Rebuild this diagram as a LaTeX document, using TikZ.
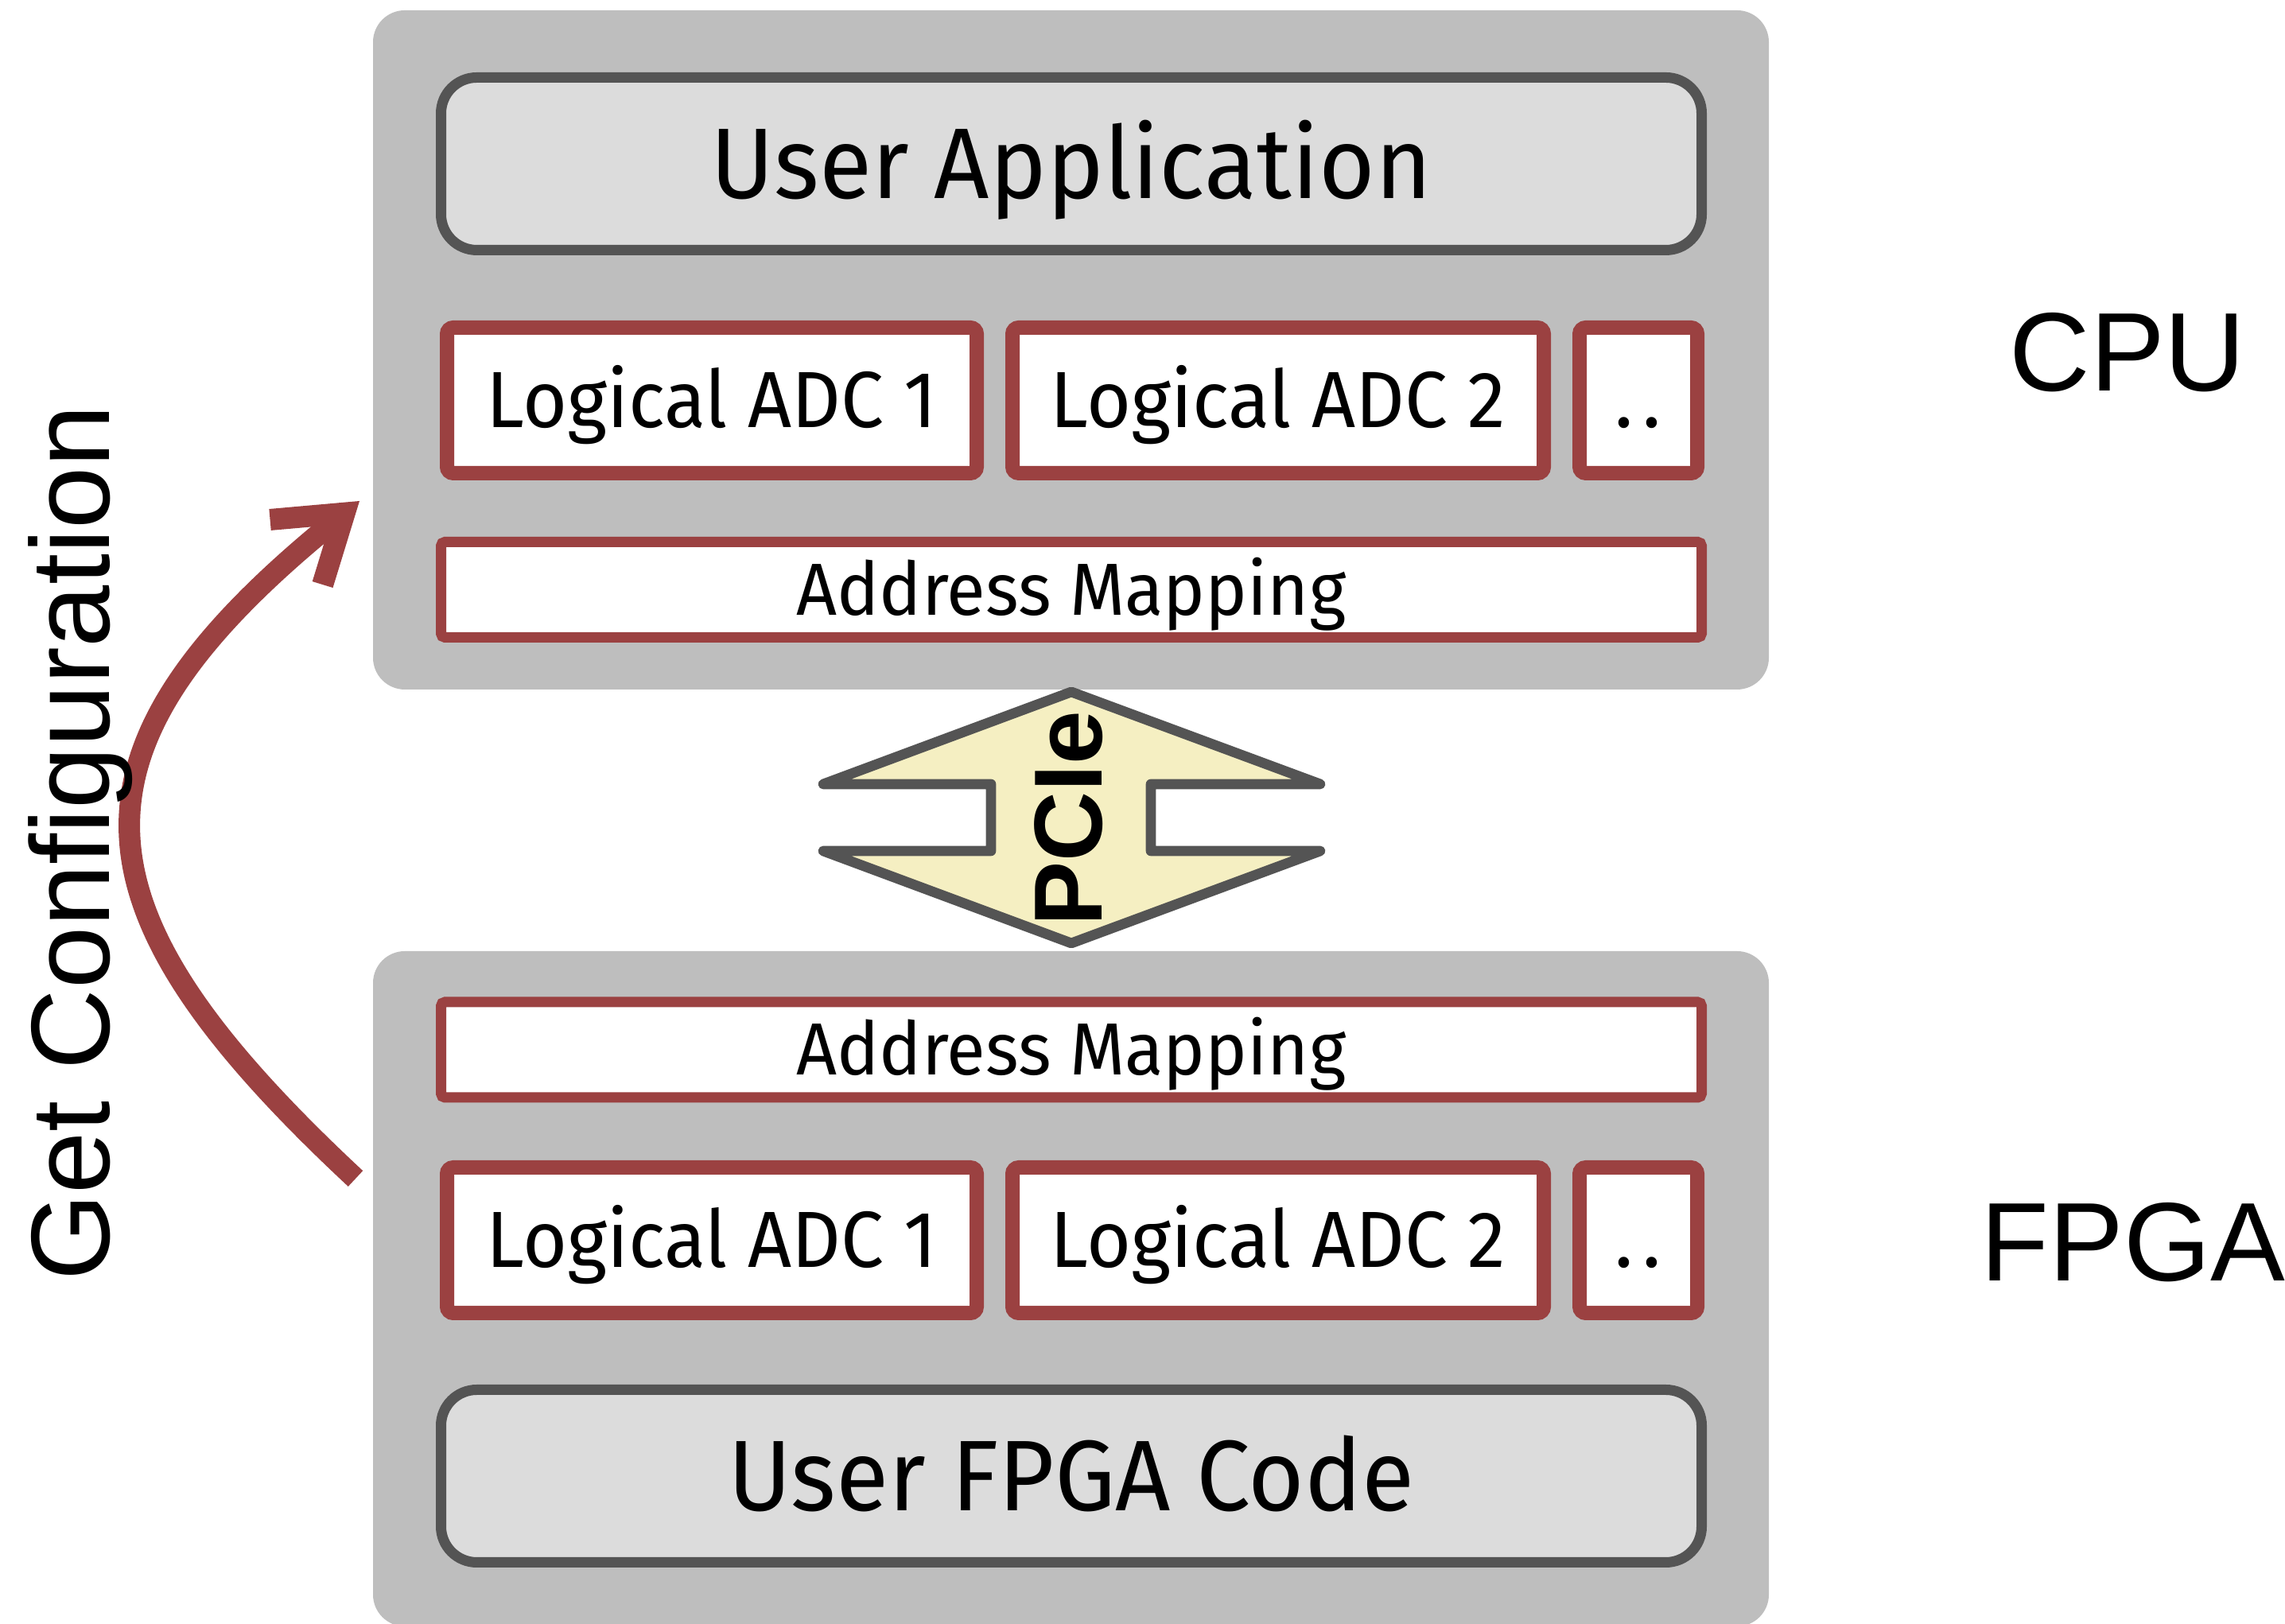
\documentclass[tikz,border=0pt]{standalone}
\usepackage{fontspec}
\usepackage{tikz}
\usetikzlibrary{positioning,arrows.meta}
\setmainfont[FakeStretch=0.96]{Fira Sans}
\newfontfamily\tagfont{Liberation Sans}
\definecolor{PanelGray}{HTML}{BEBEBE}
\definecolor{EdgeGray}{HTML}{545454}
\definecolor{LayerGray}{HTML}{DCDCDC}
\definecolor{LinkRed}{HTML}{9B4141}
\definecolor{BusYellow}{HTML}{F5EFC2}

\begin{document}
\begin{tikzpicture}[
    panel/.style={fill=PanelGray, rounded corners=0.4cm, minimum width=17.55cm, inner sep=0pt},
    layer/.style={draw=EdgeGray, line width=0.13cm, fill=LayerGray, rounded corners=0.45cm,
      minimum width=15.85cm, minimum height=2.17cm, font=\fontsize{35.9}{40}\selectfont,
      text height=0.87cm, text depth=0pt},
    adc/.style={draw=LinkRed, line width=0.18cm, fill=white, rounded corners=0.08cm, inner sep=0pt,
      minimum height=1.83cm, font=\fontsize{28.5}{32}\selectfont, text height=0.69cm, text depth=0pt},
    map/.style={draw=LinkRed, line width=0.13cm, fill=white, rounded corners=0.05cm,
      minimum width=15.85cm, minimum height=1.20cm, font=\fontsize{26.4}{30}\selectfont,
      text height=0.64cm, text depth=0pt},
    tag/.style={font=\tagfont\fontsize{40}{44}\selectfont, inner sep=0pt},
    cfg/.style={-{Straight Barb[length=0.78cm, width=1.05cm]}, line width=0.27cm, draw=LinkRed},
    bus/.style={draw=EdgeGray, line width=0.127cm, fill=BusYellow, line join=round, line cap=round}
  ]
    \clip (0,0) rectangle (28.73,20.42);

    % host side
    \node[panel, minimum height=8.54cm] (cpu) at (13.465,16.02) {};
    \node[layer] (app) at (13.47,18.36) {User Application};
    \node[adc, minimum width=6.66cm] (cadc1) at (8.95,15.385) {Logical ADC 1};
    \node[adc, minimum width=6.68cm, right=0.27cm of cadc1] (cadc2) {Logical ADC 2};
    \node[adc, minimum width=1.48cm, right=0.27cm of cadc2] (cmore) {.\kern0.12em.};
    \node[map] (cmap) at (13.47,13.005) {Address Mapping};

    % device side
    \node[panel, minimum height=8.49cm] (fpga) at (13.465,4.215) {};
    \node[map] (fmap) at (13.47,7.22) {Address Mapping};
    \node[adc, minimum width=6.66cm] (fadc1) at (8.95,4.825) {Logical ADC 1};
    \node[adc, minimum width=6.68cm, right=0.27cm of fadc1] (fadc2) {Logical ADC 2};
    \node[adc, minimum width=1.48cm, right=0.27cm of fadc2] (fmore) {.\kern0.12em.};
    \node[layer] (code) at (13.47,1.86) {User FPGA Code};

    % PCIe link between the two mappings
    \draw[bus] (10.35,10.56) -- (12.46,10.56) -- (12.46,9.72) -- (10.35,9.72) -- (13.47,8.56)
      -- (16.60,9.72) -- (14.47,9.72) -- (14.47,10.56) -- (16.60,10.56) -- (13.47,11.72) -- cycle;
    \node[tag, font=\tagfont\bfseries\fontsize{34.6}{38}\selectfont, rotate=90,
      text height=0.87cm, text depth=0pt] (pcie) at (13.42,10.13) {PCIe};

    % configuration read back to the host
    \coordinate (cfgfrom) at (4.47,5.60);
    \coordinate (cfgto) at (4.52,14.12);
    \draw[cfg] (cfgfrom) to[out=137, in=219, looseness=1.5] (cfgto);

    \node[tag, anchor=base] (cpulbl) at (26.75,15.50) {CPU};
    \node[tag, anchor=base] (fpgalbl) at (26.82,4.31) {FPGA};
    \node[tag, rotate=90, anchor=base] (cfglbl) at (1.37,9.82) {Get Configuration};
  \end{tikzpicture}
\end{document}
